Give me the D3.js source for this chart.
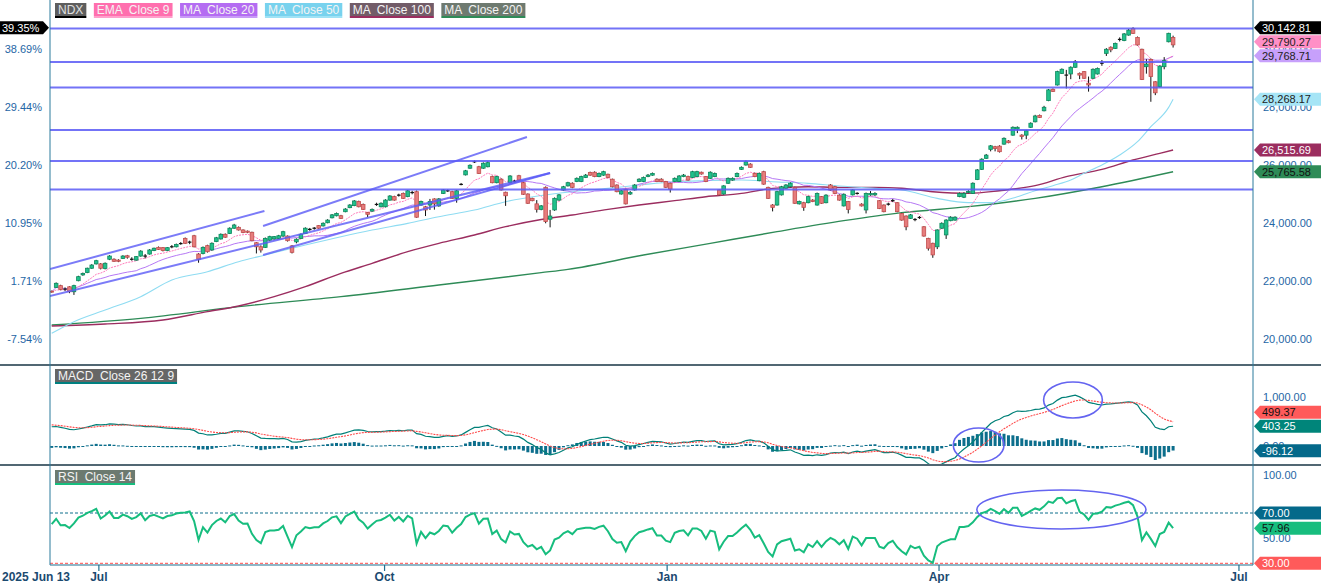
<!DOCTYPE html>
<html>
<head>
<meta charset="utf-8">
<title>NDX daily</title>
<script src="https://cdn.jsdelivr.net/npm/d3@7"></script>
<style>
  body { margin: 0; background: #fff; }
  svg { display: block; font-family: Arial, "Liberation Sans", sans-serif; }
  text { white-space: pre; }
</style>
</head>
<body>
<svg id="chart" width="1321" height="583"></svg>
<script>
// ---- price data (one entry per trading day) ----
const opens = [
  21650,21780,21840,21730,21800,21630,22010,22210,22290,22440,
  22590,22590,22430,22750,22750,22720,22780,22870,22760,22720,
  22860,22870,22930,23050,23160,23150,23050,23190,23180,23300,
  23470,23330,23560,22930,22950,23220,23070,23360,23450,23610,
  23640,23820,23850,23760,23720,23680,23320,23180,23160,23410,
  23450,23470,23550,23550,23210,23350,23470,23640,23790,23810,
  23910,23900,24010,24180,24250,24250,24390,24530,24600,24740,
  24640,24360,24410,24650,24560,24560,24790,24910,24970,25020,
  24910,25060,25080,24620,24560,24620,24830,24590,25020,25120,
  25080,24850,25340,25660,25890,26120,25940,25890,25940,25600,
  25390,25510,25060,25390,25450,25630,25390,25000,24850,24660,
  24470,25230,24130,24450,24790,25140,25280,25370,25430,25430,
  25570,25740,25750,25600,25650,25680,25510,25310,25000,25160,
  25000,25140,25430,25430,25600,25650,25510,25510,25430,25370,
  25430,25430,25600,25600,25570,25600,25750,25600,25540,25600,
  25140,25000,25370,25480,25600,25850,26000,26030,25710,25460,
  25770,25230,24620,24620,24970,25200,25250,25230,24660,24700,
  24700,24790,24620,24910,24700,25310,25250,24960,24590,24740,
  24970,25030,24650,24450,24970,24970,24770,24620,24660,24780,
  24700,24330,24240,24160,24130,24200,23870,23470,23300,23180,
  23820,23590,24080,24100,24910,24890,25070,25020,25500,25850,
  26230,26540,26630,26650,26720,26830,27030,27240,27030,27030,
  27300,27490,27710,27870,28220,28610,28760,29160,29110,29140,
  29370,29160,29220,28820,28990,29140,29500,29850,30060,30020,
  30320,30290,30480,30710,30400,29990,29390,29640,28870,28700,
  29390,30250,30400
];
const highs = [
  21670,21950,21870,21780,21820,21870,22180,22290,22460,22580,
  22730,22620,22640,22890,22780,22750,22890,22900,22820,22860,
  23060,22930,23100,23150,23190,23170,23170,23240,23290,23340,
  23500,23390,23590,22960,23190,23250,23330,23520,23640,23640,
  23850,23970,23880,23780,23740,23700,23340,23230,23500,23560,
  23550,23590,23730,23570,23240,23470,23640,23850,23830,23860,
  23930,24020,24130,24310,24360,24280,24510,24650,24790,24770,
  24670,24380,24500,24700,24710,24820,24960,24940,25010,25050,
  25140,25110,25120,24770,24590,24830,24850,24860,25170,25160,
  25110,25140,25380,25830,26020,26160,25970,26090,26130,25630,
  25630,25540,25080,25650,25490,25660,25420,25020,24870,24790,
  24620,25260,24450,24880,25000,25280,25420,25400,25570,25630,
  25690,25770,25780,25740,25800,25700,25530,25330,25140,25180,
  25100,25340,25540,25600,25690,25740,25540,25540,25450,25390,
  25570,25650,25690,25630,25800,25800,25770,25620,25780,25740,
  25160,25300,25570,25570,25740,25950,26160,26060,25740,25740,
  25800,25250,24650,25110,25280,25340,25400,25250,24770,24730,
  24940,24820,25050,24930,24990,25340,25280,24990,25020,24760,
  25170,25060,24680,25050,25100,25060,24790,24640,24700,24830,
  24720,24350,24260,24310,24170,24240,23890,23490,23320,23780,
  24020,24130,24230,24230,25050,25060,25130,25400,25860,26230,
  26380,26690,26660,26680,26950,26860,27330,27330,27060,27210,
  27470,27730,27740,28040,28620,28640,29250,29330,29280,29400,
  29620,29190,29240,29050,29330,29360,29620,30030,30090,30220,
  30400,30550,30690,30750,30430,30010,29650,29670,28890,29430,
  29720,30560,30460
];
const lows = [
  21600,21760,21680,21650,21580,21520,21990,22180,22270,22420,
  22570,22400,22400,22720,22660,22650,22760,22770,22700,22700,
  22840,22780,22910,23030,23070,23020,23030,23130,23160,23250,
  23280,23270,23160,22630,22920,22980,23040,23340,23430,23490,
  23620,23800,23740,23650,23650,23370,22950,22980,23140,23390,
  23430,23450,23530,23360,22950,23300,23450,23620,23730,23770,
  23800,23880,23990,24160,24230,24140,24370,24510,24580,24540,
  24450,24200,24390,24590,24540,24540,24770,24770,24910,24830,
  24890,24990,24180,24600,24240,24450,24460,24560,25000,25070,
  24830,24700,25300,25640,25870,26070,25690,25870,25920,25370,
  25370,25120,24590,25370,25400,25460,24970,24660,24750,24360,
  24440,23990,23850,24420,24770,25120,25260,25200,25410,25410,
  25550,25630,25580,25580,25630,25550,25230,25060,24980,24640,
  24970,25120,25410,25410,25580,25630,25410,25410,25210,25050,
  25410,25410,25580,25460,25550,25580,25670,25410,25520,25580,
  24950,24980,25350,25460,25580,25830,25980,25900,25580,25440,
  25320,24830,24400,24600,24950,25180,25230,24660,24640,24420,
  24680,24720,24600,24660,24680,25120,25000,24770,24570,24330,
  24950,24980,24570,24330,24940,24940,24480,24370,24600,24720,
  24370,24080,23750,24140,24060,24140,23530,23050,22800,23100,
  23800,23450,24060,24080,24890,24860,25030,25000,25480,25830,
  26210,26470,26470,26430,26700,26750,27010,27100,26880,26890,
  27280,27470,27620,27850,28200,28520,28740,29140,28640,28960,
  29350,28960,28970,28530,28970,29120,29420,29760,29890,30000,
  30260,30270,30460,30520,30120,28930,29150,28180,28410,28680,
  29300,30230,30050
];
const closes = [
  21631.04,21920,21710,21720,21630,21840,22150,22260,22440,22550,
  22700,22440,22610,22860,22680,22680,22860,22820,22750,22840,
  23030,22860,23070,23130,23090,23050,23150,23180,23260,23290,
  23300,23340,23180,22750,23160,23010,23300,23490,23610,23510,
  23820,23930,23760,23670,23680,23390,23180,23070,23470,23530,
  23530,23560,23700,23390,22990,23440,23610,23820,23780,23820,
  23820,23990,24100,24280,24330,24160,24480,24620,24760,24560,
  24470,24300,24470,24640,24680,24790,24930,24790,24960,24850,
  25110,25050,24200,24740,24450,24740,24660,24830,25140,25110,
  24850,25110,25330,25800,25990,26110,25710,26060,26080,25390,
  25600,25140,24940,25620,25440,25480,24990,24680,24770,24470,
  24590,24050,24240,24850,24970,25250,25390,25230,25540,25600,
  25650,25650,25600,25710,25770,25570,25250,25080,25110,24660,
  25050,25310,25510,25570,25650,25710,25430,25430,25230,25170,
  25540,25620,25650,25480,25770,25770,25690,25430,25750,25710,
  24970,25280,25540,25540,25710,25920,26110,25920,25600,25710,
  25340,24850,24540,25080,25250,25310,25370,24680,24740,24540,
  24910,24740,25020,24680,24960,25140,25020,24790,24990,24470,
  25140,25020,24590,25020,25020,25020,24500,24390,24650,24770,
  24390,24100,23870,24280,24120,24190,23550,23130,22900,23760,
  23990,24100,24200,24200,25020,25020,25090,25370,25830,26200,
  26340,26660,26570,26460,26920,26770,27300,27300,26980,27180,
  27440,27690,27640,27990,28590,28540,29220,29300,29100,29370,
  29560,29100,28990,28760,29300,29330,29510,29990,29970,30190,
  30330,30520,30650,30540,30140,28950,29480,29050,28490,29410,
  29600,30540,30142.81
];

// long moving averages, read at points along each line: [day index, value]
const ma50Pts = [[0,20196],[5,20598],[12,21000],[20,21460],[27,22035],[35,22322],[42,22667],[48,22897],
  [57,23241],[65,23528],[72,23758],[80,23988],[87,24218],[95,24448],[102,24735],[110,24950],[117,25080],
  [125,25195],[132,25310],[140,25425],[147,25459],[155,25482],[162,25425],[170,25367],[177,25275],
  [185,25195],[191,25138],[199,24850],[206,24701],[211,24701],[217,24908],[221,25115],[225,25287],
  [229,25482],[232,25712],[236,26000],[240,26344],[244,26804],[247,27321],[251,27988],[252,28268]];
const ma100Pts = [[0,20449],[12,20518],[25,20655],[35,20943],[42,21138],[50,21460],[57,21805],[65,22264],
  [72,22609],[80,23011],[87,23298],[95,23586],[102,23873],[110,24120],[117,24276],[125,24471],[132,24620],
  [140,24770],[147,24907],[155,25022],[162,25195],[170,25252],[177,25229],[185,25229],[191,25200],
  [198,25080],[206,25023],[213,25114],[221,25287],[228,25597],[236,25850],[243,26172],[249,26402],[252,26516]];
const ma200Pts = [[0,20483],[20,20713],[42,21115],[65,21460],[87,21862],[110,22287],[116,22402],[133,22896],
  [148,23298],[163,23701],[178,24080],[191,24356],[206,24563],[221,24850],[236,25252],[252,25766]];

// indicator starting state (values shown at the left edge)
const macdSeeds = [21470, 21060, 440];   // ema12, ema26, signal
const rsiSeeds = [110, 70];              // avg gain, avg loss

// drawn levels and trend lines
const hLevels = [30706, 29551, 28672, 27206, 26137, 25155];
const trendSegs = [[-0.4, 22414, 47.8, 24413], [-0.4, 21483, 112, 25724],
                   [47.5, 23896, 106.8, 26965], [47.5, 22896, 112, 25724]];
const macdRings = [[208.3, 20, 5.7, 347], [229.5, 939, 6.6, 367]];
const rsiRings = [[226.9, 72.8, 19, 15.5]];

// axis ticks and last-value tags
const priceTicks = [20000, 22000, 24000, 26000, 28000, 30000];
const macdTicks = [0, 1000];
const rsiTicks = [50, 100];
const timeTicks = [10.6, 74.8, 138.3, 199.4, 266.8];
const timeLabels = ["Jul", "Oct", "Jan", "Apr", "Jul"];
const priceTags = [30142.81, 29790.27, 29768.71, 28268.17, 26515.69, 25765.58];
const macdTags = [499.37, 403.25, -96.12];
const rsiTags = [70, 57.96, 30];

// ---- set up ----
const svg = d3.select("#chart");
const n = closes.length;
const idx = d3.range(n);
const plotL = 50, plotR = 1253;

const x = d3.scaleLinear().domain([0, 252]).range([51.7, 1173.1]);
const yP = d3.scaleLinear().domain([20000, 30000]).range([339, 49]);
const yM = d3.scaleLinear().domain([0, 1000]).range([446, 397]);
const yR = d3.scaleLinear().domain([30, 70]).range([563.3, 513]);

// plain hyphen for negatives, like the original
const loc = d3.formatLocale({decimal: ".", thousands: ",", grouping: [3], currency: ["", ""], minus: "-"});
const fmt = loc.format(",.2f");
const fmt2 = loc.format(".2f");

const defs = svg.append("defs");
[["clipMain", 20, 345], ["clipMacd", 366, 98], ["clipRsi", 466, 99]].forEach(c => {
  defs.append("clipPath").attr("id", c[0]).append("rect")
    .attr("x", plotL).attr("y", c[1]).attr("width", plotR - plotL).attr("height", c[2]);
});

// ---- indicators ----
function emaSeries(vals, len, seed) {
  const k = 2 / (len + 1);
  let e = seed;
  return vals.map(v => (e = e === undefined ? v : v * k + e * (1 - k)));
}
const ema9 = emaSeries(closes, 9);
const ma20 = idx.map(i => d3.mean(closes.slice(Math.max(0, i - 19), i + 1)));
const ema12 = emaSeries(closes, 12, macdSeeds[0]);
const ema26 = emaSeries(closes, 26, macdSeeds[1]);
const macd = ema12.map((v, i) => v - ema26[i]);
const signal = emaSeries(macd, 9, macdSeeds[2]);
const hist = macd.map((v, i) => v - signal[i]);
let ag = rsiSeeds[0], al = rsiSeeds[1];
const rsi = closes.map((c, i) => {
  if (i > 0) {
    const d = c - closes[i - 1];
    ag = (ag * 13 + Math.max(d, 0)) / 14;
    al = (al * 13 + Math.max(-d, 0)) / 14;
  }
  return 100 - 100 / (1 + ag / al);
});

// ---- main panel ----
const main = svg.append("g").attr("clip-path", "url(#clipMain)");
const lineI = (arr, ys) => d3.line().x(i => x(i)).y(i => ys(arr[i]))(idx);
const linePts = (pts, ys) => d3.line().curve(d3.curveMonotoneX).x(d => x(d[0])).y(d => ys(d[1]))(pts);

main.append("path").attr("d", linePts(ma200Pts, yP)).attr("fill", "none").attr("stroke", "#2e8b57").attr("stroke-width", 1.4);
main.append("path").attr("d", linePts(ma100Pts, yP)).attr("fill", "none").attr("stroke", "#9b2d5f").attr("stroke-width", 1.4);
main.append("path").attr("d", linePts(ma50Pts, yP)).attr("fill", "none").attr("stroke", "#8fdcf2").attr("stroke-width", 1.1);
main.append("path").attr("d", lineI(ma20, yP)).attr("fill", "none").attr("stroke", "#b678f5").attr("stroke-width", 1);
main.append("path").attr("d", lineI(ema9, yP)).attr("fill", "none").attr("stroke", "#ff7cbc")
  .attr("stroke-width", 1).attr("stroke-dasharray", "2,1");

// candles
const isDoji = i => Math.abs(closes[i] - opens[i]) < 15;
main.selectAll("line.wick").data(idx).join("line").attr("class", "wick")
  .attr("x1", i => x(i)).attr("x2", i => x(i))
  .attr("y1", i => yP(highs[i])).attr("y2", i => yP(lows[i]))
  .attr("stroke", "#111").attr("stroke-width", 1);
main.selectAll("rect.body").data(idx).join("rect").attr("class", "body")
  .attr("x", i => x(i) - 1.8).attr("width", 3.6)
  .attr("y", i => isDoji(i) ? yP(closes[i]) - 0.6 : yP(Math.max(opens[i], closes[i])))
  .attr("height", i => isDoji(i) ? 1.2 : Math.max(1, Math.abs(yP(opens[i]) - yP(closes[i]))))
  .attr("fill", i => isDoji(i) ? "#111" : closes[i] >= opens[i] ? "#22c08c" : "#e67c7c")
  .attr("stroke", i => isDoji(i) ? "none" : closes[i] >= opens[i] ? "#0d8a5e" : "#c24e4e")
  .attr("stroke-width", 0.8);

// drawn lines on top
main.selectAll("line.level").data(hLevels).join("line").attr("class", "level")
  .attr("x1", plotL).attr("x2", plotR).attr("y1", d => yP(d)).attr("y2", d => yP(d))
  .attr("stroke", "#5a5af6").attr("stroke-opacity", 0.85).attr("stroke-width", 2);
main.selectAll("line.trend").data(trendSegs).join("line").attr("class", "trend")
  .attr("x1", d => x(d[0])).attr("y1", d => yP(d[1])).attr("x2", d => x(d[2])).attr("y2", d => yP(d[3]))
  .attr("stroke", "#5a5af6").attr("stroke-opacity", 0.8).attr("stroke-width", 2);

// ---- MACD panel ----
const gm = svg.append("g").attr("clip-path", "url(#clipMacd)");
gm.selectAll("rect").data(idx).join("rect")
  .attr("x", i => x(i) - 1.5).attr("width", 3)
  .attr("y", i => Math.min(yM(0), yM(hist[i])))
  .attr("height", i => Math.max(1, Math.abs(yM(hist[i]) - yM(0))))
  .attr("fill", "#0c6e8c");
gm.append("path").attr("d", lineI(macd, yM)).attr("fill", "none").attr("stroke", "#008078").attr("stroke-width", 1.2);
gm.append("path").attr("d", lineI(signal, yM)).attr("fill", "none").attr("stroke", "#ff4a4a")
  .attr("stroke-width", 1.1).attr("stroke-dasharray", "2,1");
gm.selectAll("ellipse").data(macdRings).join("ellipse")
  .attr("cx", d => x(d[0])).attr("cy", d => yM(d[1]))
  .attr("rx", d => x(d[2]) - x(0)).attr("ry", d => yM(0) - yM(d[3]))
  .attr("fill", "none").attr("stroke", "#6464f0").attr("stroke-width", 1.6);

// ---- RSI panel ----
const gr = svg.append("g").attr("clip-path", "url(#clipRsi)");
gr.append("line").attr("x1", plotL).attr("x2", plotR).attr("y1", yR(70)).attr("y2", yR(70))
  .attr("stroke", "#0c6e8c").attr("stroke-dasharray", "3,2");
gr.append("line").attr("x1", plotL).attr("x2", plotR).attr("y1", yR(30)).attr("y2", yR(30))
  .attr("stroke", "#ff4a4a").attr("stroke-dasharray", "3,2");
gr.append("path").attr("d", lineI(rsi, yR)).attr("fill", "none").attr("stroke", "#17bd7e").attr("stroke-width", 2);
gr.selectAll("ellipse").data(rsiRings).join("ellipse")
  .attr("cx", d => x(d[0])).attr("cy", d => yR(d[1]))
  .attr("rx", d => x(d[2]) - x(0)).attr("ry", d => yR(0) - yR(d[3]))
  .attr("fill", "none").attr("stroke", "#6464f0").attr("stroke-width", 1.6);

// ---- frame ----
svg.append("line").attr("x1", 0).attr("x2", 1321).attr("y1", 365).attr("y2", 365).attr("stroke", "#173444").attr("stroke-width", 1.5);
svg.append("line").attr("x1", 0).attr("x2", 1321).attr("y1", 465).attr("y2", 465).attr("stroke", "#173444").attr("stroke-width", 1.5);
svg.append("line").attr("x1", plotL).attr("x2", plotL).attr("y1", 0).attr("y2", 565).attr("stroke", "#2a7b9c");
svg.append("line").attr("x1", plotR).attr("x2", plotR).attr("y1", 0).attr("y2", 565).attr("stroke", "#2a7b9c");
svg.append("line").attr("x1", plotL).attr("x2", plotR).attr("y1", 565).attr("y2", 565).attr("stroke", "#1f6f8f").attr("stroke-width", 1.2);

// ---- axes ----
const axisText = "#2566a5";
function styleAxis(g) {
  g.select(".domain").remove();
  g.selectAll("text").attr("fill", axisText).attr("font-size", 11).attr("font-family", "Arial, 'Liberation Sans', sans-serif");
}
const base = closes[0];
svg.append("g").attr("transform", `translate(${plotR},0)`)
  .call(d3.axisRight(yP).tickValues(priceTicks).tickSize(0).tickPadding(10).tickFormat(fmt)).call(styleAxis);
svg.append("g").attr("transform", `translate(${plotL},0)`)
  .call(d3.axisLeft(yP).tickValues(priceTicks).tickSize(0).tickPadding(8)
    .tickFormat(p => fmt2((p / base - 1) * 100) + "%")).call(styleAxis);
svg.append("g").attr("transform", `translate(${plotR},0)`)
  .call(d3.axisRight(yM).tickValues(macdTicks).tickSize(0).tickPadding(10).tickFormat(fmt)).call(styleAxis);
svg.append("g").attr("transform", `translate(${plotR},0)`)
  .call(d3.axisRight(yR).tickValues(rsiTicks).tickSize(0).tickPadding(10).tickFormat(fmt2)).call(styleAxis);

const gx = svg.append("g");
gx.selectAll("line").data(timeTicks).join("line")
  .attr("x1", d => x(d)).attr("x2", d => x(d)).attr("y1", 565).attr("y2", 571)
  .attr("stroke", "#1f6f8f").attr("stroke-width", 1.2);
gx.selectAll("text").data(timeTicks).join("text")
  .attr("x", d => x(d)).attr("y", 581).attr("text-anchor", "middle")
  .text((d, i) => timeLabels[i]);
gx.append("text").attr("x", 2).attr("y", 581).text("2025 Jun 13");
gx.selectAll("text").attr("fill", "#1b4a70").attr("font-size", 12).attr("font-weight", "bold");

// ---- legend boxes ----
function labelRow(x0, y0, items) {
  let cx = x0;
  items.forEach(it => {
    const g = svg.append("g");
    const r = g.append("rect").attr("x", cx).attr("y", y0).attr("height", 13).attr("fill", it[1]);
    const t = g.append("text").attr("x", cx + 3).attr("y", y0 + 11).attr("font-size", 12)
      .attr("fill", it[3] || "#f4f4f4").text(it[0]);
    const w = t.node().getComputedTextLength() + 6;
    r.attr("width", w);
    g.append("rect").attr("x", cx).attr("y", y0 + 13).attr("width", w).attr("height", 2).attr("fill", it[2]);
    cx += w + 7.5;
  });
}
labelRow(55, 3, [
  ["NDX", "#5e5e5e", "#000", "#e0e0e0"],
  ["EMA  Close 9", "#ff6fae", "#ff9fcb"],
  ["MA  Close 20", "#b46cf2", "#c89bf7"],
  ["MA  Close 50", "#78d2ee", "#9fe2f5"],
  ["MA  Close 100", "#725c68", "#9b2d5f"],
  ["MA  Close 200", "#6e7a70", "#2e8b57"]
]);
labelRow(55, 369, [["MACD  Close 26 12 9", "#666666", "#008080"]]);
labelRow(55, 470, [["RSI  Close 14", "#6c7a70", "#17bd7e"]]);

// ---- last value tags ----
function stackYs(ys, gap) {
  const out = ys.slice();
  let prev = Infinity;
  d3.range(ys.length).sort((a, b) => ys[b] - ys[a]).forEach(k => {
    out[k] = Math.min(ys[k], prev - gap);
    prev = out[k];
  });
  return out;
}
function rightTag(y, txt, bg, fg) {
  svg.append("path").attr("d", `M1254,${y} L1260,${y - 6.5} L1321,${y - 6.5} L1321,${y + 6.5} L1260,${y + 6.5} Z`).attr("fill", bg);
  svg.append("text").attr("x", 1262).attr("y", y + 4).attr("font-size", 11).attr("fill", fg).text(txt);
}
const pStyles = [["#000", "#fff"], ["#ff8fc6", "#222"], ["#c7a0fb", "#222"], ["#a6e5f6", "#222"], ["#9b2d5f", "#fff"], ["#2e8b57", "#111"]];
const pYs = stackYs(priceTags.map(v => yP(v)), 14);
priceTags.forEach((v, k) => rightTag(pYs[k], fmt(v), pStyles[k][0], pStyles[k][1]));
const mStyles = [["#ff5a5a", "#111"], ["#00857a", "#fff"], ["#04698a", "#fff"]];
const mYs = stackYs(macdTags.map(v => yM(v)), 14);
macdTags.forEach((v, k) => rightTag(mYs[k], fmt(v), mStyles[k][0], mStyles[k][1]));
const rStyles = [["#04698a", "#fff"], ["#17bd7e", "#111"], ["#ff5a5a", "#fff"]];
const rYs = stackYs(rsiTags.map(v => yR(v)), 14);
rsiTags.forEach((v, k) => rightTag(rYs[k], fmt(v), rStyles[k][0], rStyles[k][1]));

// left percent tag for last close
const ly = pYs[0];
svg.append("path").attr("d", `M0,${ly - 6.5} L43,${ly - 6.5} L49,${ly} L43,${ly + 6.5} L0,${ly + 6.5} Z`).attr("fill", "#000");
svg.append("text").attr("x", 2).attr("y", ly + 4).attr("font-size", 11).attr("fill", "#fff")
  .text(fmt2((priceTags[0] / base - 1) * 100) + "%");
</script>
</body>
</html>
